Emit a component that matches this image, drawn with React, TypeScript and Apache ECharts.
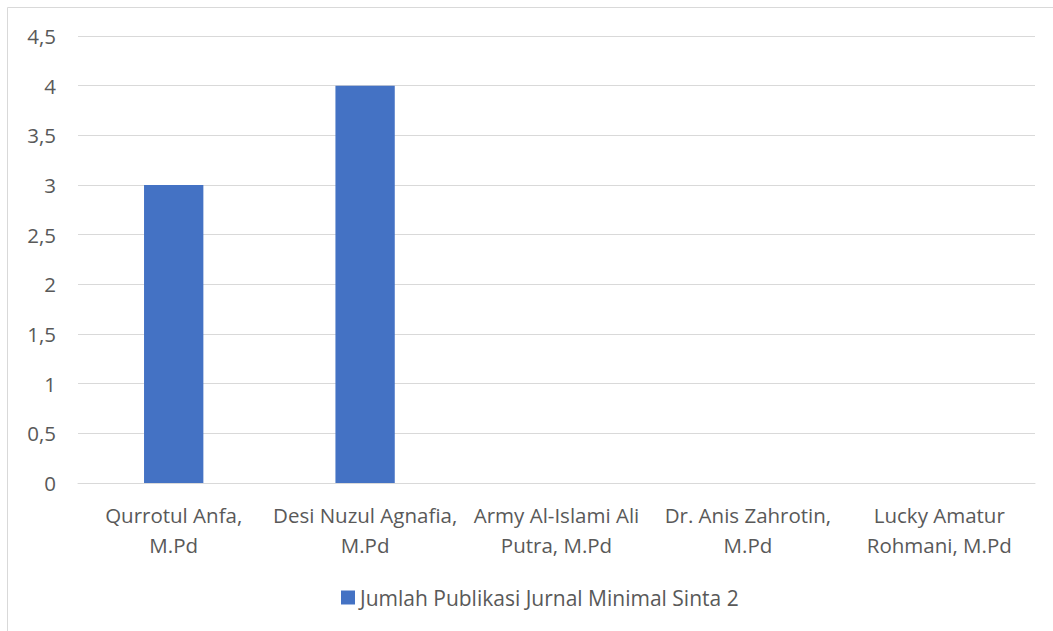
import React, { useEffect, useRef } from "react";
import * as echarts from "echarts";

const categories = [
  "Qurrotul Anfa,\nM.Pd",
  "Desi Nuzul Agnafia,\nM.Pd",
  "Army Al-Islami Ali\nPutra, M.Pd",
  "Dr. Anis Zahrotin,\nM.Pd",
  "Lucky Amatur\nRohmani, M.Pd",
];
const seriesName = "Jumlah Publikasi Jurnal Minimal Sinta 2";
const values = [3, 4, 0, 0, 0];

const FONT = "'Open Sans', 'Noto Sans', sans-serif";
const TXT = "#595959";

export default function App() {
  const ref = useRef<HTMLDivElement>(null);
  useEffect(() => {
    if (!ref.current) return;
    const chart = echarts.init(ref.current, undefined, { renderer: "svg" });
    chart.setOption({
      animation: false,
      backgroundColor: "#ffffff",
      textStyle: { fontFamily: FONT },
      graphic: [
        {
          type: "rect",
          shape: { x: 7.5, y: 7.5, width: 1200, height: 800 },
          style: { fill: "none", stroke: "#d9d9d9", lineWidth: 1 },
          silent: true,
        },
      ],
      grid: { left: 78, right: 18, top: 36, bottom: 148, containLabel: false },
      legend: {
        data: [seriesName],
        top: 582,
        left: 336,
        icon: "rect",
        itemWidth: 14,
        itemHeight: 14,
        textStyle: { color: TXT, fontSize: 21, fontFamily: FONT },
      },
      xAxis: {
        type: "category",
        data: categories,
        axisLine: { lineStyle: { color: "#d9d9d9", width: 1 } },
        axisTick: { show: false },
        axisLabel: {
          color: TXT,
          fontSize: 20.5,
          lineHeight: 30,
          margin: 17,
          interval: 0,
          fontFamily: FONT,
        },
      },
      yAxis: {
        type: "value",
        min: 0,
        max: 4.5,
        interval: 0.5,
        axisLine: { show: false },
        axisTick: { show: false },
        splitLine: { lineStyle: { color: "#d9d9d9", width: 1 } },
        axisLabel: {
          color: TXT,
          fontSize: 20.5,
          margin: 22,
          fontFamily: FONT,
          formatter: (v: number) => String(v).replace(".", ","),
        },
      },
      series: [
        {
          name: seriesName,
          type: "bar",
          data: values,
          barWidth: "31%",
          itemStyle: { color: "#4472C4" },
        },
      ],
    });
    return () => chart.dispose();
  }, []);
  return (
    <div
      ref={ref}
      style={{ position: "fixed", left: 0, top: 0, width: 1053, height: 631 }}
    />
  );
}
